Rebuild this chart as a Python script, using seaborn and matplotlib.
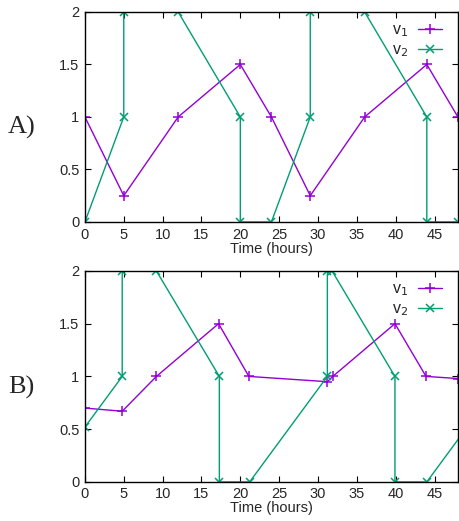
import numpy as np
import matplotlib
matplotlib.use("Agg")
import matplotlib.pyplot as plt
import seaborn as sns
import pandas as pd

# panel A
a_v1_t = [0, 5, 12, 20, 24, 29, 36, 44, 48]
a_v1 = [1, 0.25, 1, 1.5, 1, 0.25, 1, 1.5, 1]
a_v2_t = [0, 5, 5, 12, 20, 20, 24, 29, 29, 36, 44, 44, 48]
a_v2 = [0, 1, 2, 2, 1, 0, 0, 1, 2, 2, 1, 0, 0]

# panel B
b_v1_t = [0, 4.8, 9.2, 17.2, 21.1, 31.2, 31.9, 39.9, 43.9, 48]
b_v1 = [0.70, 0.67, 1, 1.5, 1, 0.95, 1, 1.5, 1, 0.98]
b_v2_t = [0, 4.8, 4.8, 9.2, 17.3, 17.3, 21.2, 31.2, 31.2, 31.8, 39.9, 39.9, 44, 54]
b_v2 = [0.52, 1, 2, 2, 1, 0, 0, 1, 2, 2, 1, 0, 0, 1]

yticks = [0, 0.5, 1, 1.5, 2]
ytick_labels = ["0", "0.5", "1", "1.5", "2"]
xticks = list(range(0, 50, 5))

sns.set_style("ticks")
plt.rcParams['font.family'] = ['Liberation Sans', 'DejaVu Sans']

purple = "#9400D3"
green = "#009E73"

fig = plt.figure(figsize=(4.59, 5.21), dpi=100)
axA = fig.add_axes([0.185, 0.574, 0.8126, 0.403])
axB = fig.add_axes([0.185, 0.075, 0.8126, 0.405])

panels = [
    (axA, a_v1_t, a_v1, a_v2_t, a_v2, "A)", 0.756),
    (axB, b_v1_t, b_v1, b_v2_t, b_v2, "B)", 0.257),
]

for ax, t1, y1, t2, y2, tag, ty in panels:
    d1 = pd.DataFrame({"t": t1, "v": y1})
    d2 = pd.DataFrame({"t": t2, "v": y2})
    sns.lineplot(data=d1, x="t", y="v", ax=ax, sort=False, estimator=None,
                 color=purple, marker="+", markersize=6.5, markeredgewidth=1.1,
                 markeredgecolor=purple, lw=1, label="v$_1$")
    sns.lineplot(data=d2, x="t", y="v", ax=ax, sort=False, estimator=None,
                 color=green, marker="x", markersize=5.5, markeredgewidth=1.1,
                 markeredgecolor=green, lw=1, label="v$_2$")
    ax.set_xlim(0, 48)
    ax.set_ylim(0, 2)
    ax.set_xticks(xticks)
    ax.set_yticks(yticks)
    ax.set_yticklabels(ytick_labels)
    ax.tick_params(direction="in", top=True, right=True, length=4, width=0.8,
                   labelsize=10.5, pad=4, color="black")
    for s in ax.spines.values():
        s.set_linewidth(1)
        s.set_color("black")
    ax.set_xlabel("Time (hours)", fontsize=10.5, labelpad=0)
    ax.set_ylabel("")
    ax.legend(loc="upper right", bbox_to_anchor=(0.985, 1.0), frameon=False,
              markerfirst=False, handlelength=1.5, fontsize=11.5,
              borderaxespad=0.25, labelspacing=0.2, handletextpad=0.6)
    fig.text(0.047, ty, tag, family="Liberation Serif", fontsize=19,
             ha="center", va="center")

fig.savefig("out.png", dpi=100)
